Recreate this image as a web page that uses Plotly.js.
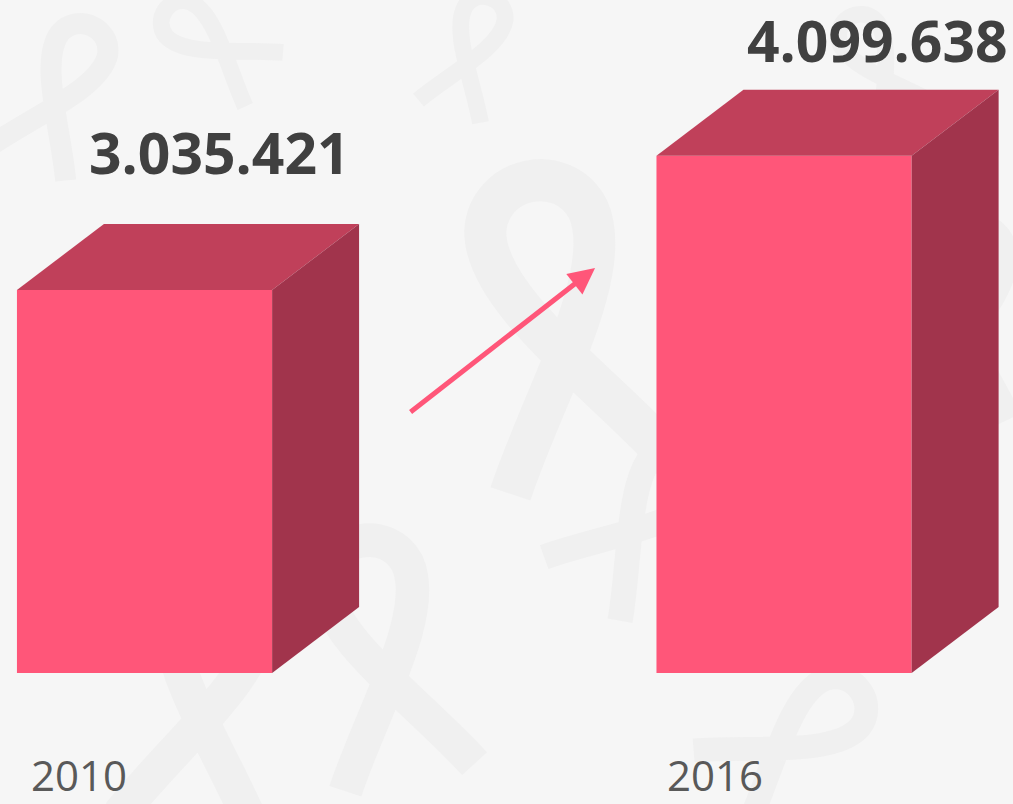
<!DOCTYPE html>
<html>
<head>
<meta charset="utf-8">
<script src="https://cdn.plot.ly/plotly-3.0.1.min.js"></script>
<style>html,body{margin:0;padding:0;background:#F6F6F6;}#chart{width:1013px;height:804px;}</style>
</head>
<body>
<div id="chart"></div>
<script>
// ---- data ----
const years = ['2010', '2016'];
const values = [3035421, 4099638];
const valueLabels = ['3.035.421', '4.099.638'];

// ---- style ----
const W = 1013, H = 804;
const frontColor = '#FF5679';
const topColor = '#C0405A';
const sideColor = '#A1344C';
const barWidth = 0.399;
const depthX = 0.136;      // x units
const depthY = 523000;     // y units
const labelShiftX = [75, 93];
const labelShiftY = [72, 50];
const yearShiftX = [-66, -69];

const xs = years.map((_, i) => i);

const shapes = [];

// faint decorative ribbons in the background (pixel placement -> paper coords)
const ribbonSpots = [
  [60, 95, 75, 25], [215, 45, 60, -55], [470, 55, 60, 20], [560, 330, 150, -12],
  [205, 700, 125, 8], [385, 660, 120, -12], [790, 740, 85, 55], [965, 320, 95, 5],
  [880, 70, 60, -30], [640, 520, 90, 40], [130, 400, 80, -30]
];
const base = [[-0.55, 1.0], [-0.2, 0.4], [0.45, -0.3], [0.35, -0.75], [0.25, -1.1], [-0.25, -1.1],
              [-0.35, -0.75], [-0.45, -0.3], [0.2, 0.4], [0.55, 1.0]];
ribbonSpots.forEach(([cx, cy, s, rot]) => {
  const a = rot * Math.PI / 180;
  const p = base.map(([u, v]) => {
    const px = cx + s * (u * Math.cos(a) - v * Math.sin(a));
    const py = cy + s * (u * Math.sin(a) + v * Math.cos(a));
    return (px / W).toFixed(4) + ' ' + (1 - py / H).toFixed(4);
  });
  shapes.push({
    type: 'path', xref: 'paper', yref: 'paper', layer: 'below',
    path: `M ${p[0]} C ${p[1]}, ${p[2]}, ${p[3]} C ${p[4]}, ${p[5]}, ${p[6]} C ${p[7]}, ${p[8]}, ${p[9]}`,
    line: {color: '#F0F0F0', width: Math.max(16, s * 0.28)}, fillcolor: 'rgba(0,0,0,0)'
  });
});

xs.forEach((x, i) => {
  const v = values[i];
  const x0 = x - barWidth / 2, x1 = x + barWidth / 2;
  // top face
  shapes.push({
    type: 'path', xref: 'x', yref: 'y', layer: 'above',
    path: `M ${x0} ${v} L ${x1} ${v} L ${x1 + depthX} ${v + depthY} L ${x0 + depthX} ${v + depthY} Z`,
    fillcolor: topColor, line: {width: 0}
  });
  // side face
  shapes.push({
    type: 'path', xref: 'x', yref: 'y', layer: 'above',
    path: `M ${x1} 0 L ${x1} ${v} L ${x1 + depthX} ${v + depthY} L ${x1 + depthX} ${depthY} Z`,
    fillcolor: sideColor, line: {width: 0}
  });
});

const annotations = [];
xs.forEach((x, i) => {
  annotations.push({
    x: x, y: values[i] + depthY, xref: 'x', yref: 'y',
    text: valueLabels[i], showarrow: false,
    xanchor: 'center', yanchor: 'middle',
    xshift: labelShiftX[i], yshift: labelShiftY[i],
    font: {family: 'Open Sans', size: 57, color: '#404040', weight: 'bold'}
  });
  annotations.push({
    x: x, y: 0, xref: 'x', yref: 'y',
    text: years[i], showarrow: false,
    xanchor: 'center', yanchor: 'middle',
    xshift: yearShiftX[i], yshift: -101,
    font: {family: 'Open Sans', size: 42, color: '#595959'}
  });
});
// growth arrow
annotations.push({
  x: 0.7045, y: 3209000, xref: 'x', yref: 'y',
  ax: -186, ay: 145, axref: 'pixel', ayref: 'pixel',
  text: '', showarrow: true,
  arrowhead: 2, arrowsize: 1.05, arrowwidth: 5, arrowcolor: '#FF5679'
});

const trace = {
  type: 'bar', x: xs, y: values, width: barWidth,
  marker: {color: frontColor, line: {width: 0}},
  hoverinfo: 'skip', showlegend: false
};

const layout = {
  width: W, height: H,
  margin: {l: 0, r: 0, t: 0, b: 0},
  paper_bgcolor: '#F6F6F6', plot_bgcolor: 'rgba(0,0,0,0)',
  xaxis: {range: [-0.226, 1.358], showgrid: false, zeroline: false, showticklabels: false, showline: false, fixedrange: true},
  yaxis: {range: [-1038200, 5333650], showgrid: false, zeroline: false, showticklabels: false, showline: false, fixedrange: true},
  shapes: shapes,
  annotations: annotations,
  showlegend: false
};

Plotly.newPlot('chart', [trace], layout, {displayModeBar: false, staticPlot: true});
</script>
</body>
</html>
